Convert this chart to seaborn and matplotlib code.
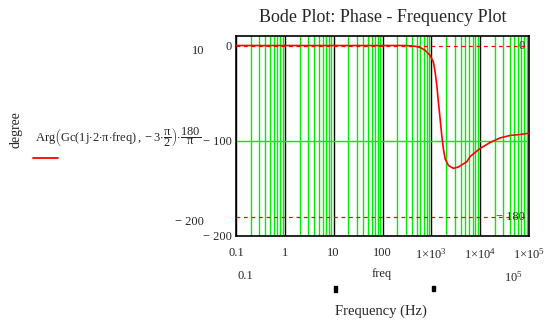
import numpy as np
import pandas as pd
import matplotlib
matplotlib.use("Agg")
import matplotlib.pyplot as plt
import seaborn as sns
from matplotlib.ticker import LogLocator, NullFormatter
from matplotlib.patches import Rectangle
from matplotlib.lines import Line2D

sns.set_theme(style="white")
plt.rcParams['font.family'] = ['Liberation Serif', 'DejaVu Serif']
plt.rcParams['mathtext.fontset'] = 'custom'
plt.rcParams['mathtext.rm'] = 'Liberation Serif'
plt.rcParams['mathtext.it'] = 'Liberation Serif'
plt.rcParams['mathtext.bf'] = 'Liberation Serif:bold'

# ---- data ----
freq = [0.1, 1, 10, 100, 300, 466, 590, 746, 945, 1105, 1196, 1296, 1398, 1513,
        1640, 1771, 1918, 2240, 2835, 3590, 5330, 6240, 10000, 16000, 25700,
        41200, 66000, 100000]
phase = [0, 0, 0, 0, 0, -0.8, -2, -5, -10.5, -17.5, -28, -42, -60, -77,
         -95, -109, -119, -126, -129, -127.5, -122, -116.5, -108, -101.8, -97,
         -94.4, -93.4, -92]
ref_levels = [0, -180]
ref_labels = ["0", "− 180"]
x_ticks = [0.1, 1, 10, 100, 1000, 10000, 100000]
x_ticklabels = ["0.1", "1", "10", "100", r"$1{\times}10^{3}$", r"$1{\times}10^{4}$", r"$1{\times}10^{5}$"]
y_ticks = [0, -100, -200]
y_ticklabels = ["0", "− 100", "− 200"]
title = "Bode Plot: Phase - Frequency Plot"

df = pd.DataFrame({"freq": freq, "phase": phase})

W, H = 560, 324
fig = plt.figure(figsize=(W / 100, H / 100), dpi=100)
L, R, T, B = 236, 529, 36, 236
ax = fig.add_axes([L / W, 1 - B / H, (R - L) / W, (B - T) / H])
ax.set_xscale("log")
ax.set_xlim(0.1, 1e5)
ax.set_ylim(-200, 10)

# grid
ax.xaxis.set_minor_locator(LogLocator(base=10, subs=np.arange(2, 10)))
ax.xaxis.set_minor_formatter(NullFormatter())
ax.grid(which="minor", axis="x", color="#00ee00", lw=1.0)
ax.grid(which="major", axis="x", color="black", lw=1.0)
ax.axhline(-100, color="#00ee00", lw=1.0, zorder=1)

for lv in ref_levels:
    ax.axhline(lv, color="red", lw=0.9, ls=(0, (3, 3)), zorder=2)

sns.lineplot(data=df, x="freq", y="phase", ax=ax, color="red", lw=1.2, zorder=3)

for lv, lb in zip(ref_levels, ref_labels):
    ax.text(0.985, lv, lb, transform=ax.get_yaxis_transform(), ha="right",
            va="center", fontsize=9, color="#333333", zorder=4)

ax.set_xticks(x_ticks)
ax.set_xticklabels(x_ticklabels, fontsize=9)
ax.set_yticks(y_ticks)
ax.set_yticklabels(y_ticklabels, fontsize=9)
ax.tick_params(axis="both", which="both", length=0, pad=8)
ax.tick_params(axis="y", pad=3)
ax.set_xlabel("")
ax.set_ylabel("")
for s in ax.spines.values():
    s.set_color("black")
    s.set_linewidth(1.2)

def fx(px):
    return px / W

def fy(py):
    return 1 - py / H

fig.text(fx(383), fy(17), title, ha="center", va="center", fontsize=13)
fig.text(fx(16), fy(130), "degree", rotation=90, ha="center", va="center", fontsize=10)
fig.text(fx(35), fy(137),
         r"$\mathrm{Arg}\left(\mathrm{Gc(1j{\cdot}2{\cdot}\pi{\cdot}freq)\,,-3{\cdot}}\dfrac{\pi}{2}\right){\cdot}\dfrac{180}{\pi}$",
         ha="left", va="center", fontsize=9)
fig.add_artist(Line2D([fx(33), fx(58)], [fy(158), fy(158)], color="red", lw=1.3))
fig.text(fx(198), fy(51), "10", ha="center", va="center", fontsize=9)
fig.text(fx(204), fy(222), "− 200", ha="right", va="center", fontsize=9)
fig.text(fx(245), fy(276), "0.1", ha="center", va="center", fontsize=9)
fig.text(fx(382), fy(274), "freq", ha="center", va="center", fontsize=9)
fig.text(fx(513), fy(277), r"$10^{5}$", ha="center", va="center", fontsize=9)
fig.text(fx(381), fy(311), "Frequency (Hz)", ha="center", va="center", fontsize=10.5)
fig.add_artist(Rectangle((fx(334), fy(292)), 3 / W, 6 / H, color="black"))
fig.add_artist(Rectangle((fx(432), fy(291)), 3 / W, 5 / H, color="black"))

fig.savefig("out.png", dpi=100)
